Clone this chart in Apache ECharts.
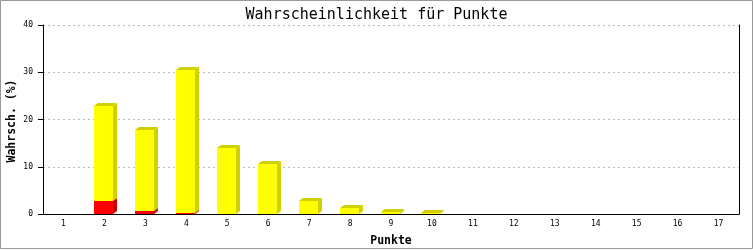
<!DOCTYPE html>
<html><head><meta charset="utf-8">
<script src="https://cdn.jsdelivr.net/npm/echarts@6/dist/echarts.min.js"></script>
<style>html,body{margin:0;padding:0;background:#fff}#c{width:753px;height:250px}</style>
</head><body><div id="c"></div>
<script>
const categories = ['1','2','3','4','5','6','7','8','9','10','11','12','13','14','15','16','17'];
const redValues = [0, 2.75, 0.55, 0.2, 0, 0, 0, 0, 0, 0, 0, 0, 0, 0, 0, 0, 0];
const totalValues = [0, 22.9, 17.8, 30.5, 14.0, 10.6, 2.75, 1.27, 0.42, 0.12, 0, 0, 0, 0, 0, 0, 0];
const yellowValues = totalValues.map((t, i) => Math.max(0, +(t - redValues[i]).toFixed(3)));
const yTicks = [0, 10, 20, 30, 40];
const yTitle = 'Wahrsch. (%)';

const chart = echarts.init(document.getElementById('c'), null, {renderer: 'canvas'});
const MONO = '"DejaVu Sans Mono", monospace';
const DX = 4, DY = 3, BW = 19;

function makeRender(front, side, bases) {
  return function (params, api) {
    const idx = api.value(0);
    const v = api.value(1);
    if (!(v > 0)) return;
    const base = bases ? bases[idx] : 0;
    const p0 = api.coord([idx, base]);
    const p1 = api.coord([idx, base + v]);
    const x0 = Math.round(p0[0] - BW / 2 - 1), x1 = x0 + BW;
    const yb = Math.round(p0[1]), yt = Math.round(p1[1]);
    return {
      type: 'group',
      children: [
        {type: 'polygon', shape: {points: [[x1, yb], [x1 + DX, yb - DY], [x1 + DX, yt - DY], [x1, yt]]}, style: {fill: side}},
        {type: 'polygon', shape: {points: [[x0, yt], [x0 + DX, yt - DY], [x1 + DX, yt - DY], [x1, yt]]}, style: {fill: side}},
        {type: 'rect', shape: {x: x0, y: yt, width: BW, height: yb - yt}, style: {fill: front}}
      ]
    };
  };
}

chart.setOption({
  animation: false,
  backgroundColor: '#fff',
  title: {text: 'Wahrscheinlichkeit für Punkte', left: 'center', top: 3,
    textStyle: {fontFamily: MONO, fontSize: 15, fontWeight: 'normal', color: '#000'}},
  grid: {left: 43, right: 14, top: 25, bottom: 36, containLabel: false, outerBoundsMode: 'none'},
  xAxis: {type: 'category', data: categories, name: 'Punkte', nameLocation: 'middle', nameGap: 21,
    nameMoveOverlap: false,
    nameTextStyle: {fontFamily: MONO, fontSize: 11.5, fontWeight: 'bold', color: '#000'},
    axisLine: {lineStyle: {color: '#000', width: 1}}, axisTick: {show: false},
    axisLabel: {fontFamily: MONO, fontSize: 8, color: '#000', margin: 6}},
  yAxis: [{type: 'value', min: 0, max: 40, interval: 10,
    axisLine: {show: true, lineStyle: {color: '#000', width: 1}},
    axisTick: {show: true, length: 5, lineStyle: {color: '#000'}},
    axisLabel: {fontFamily: MONO, fontSize: 8, color: '#000', margin: 10,
      formatter: v => yTicks.includes(v) ? String(v) : ''},
    splitLine: {show: true, lineStyle: {color: '#bbb', type: [2, 3], width: 1}}},
    {type: 'value', min: 0, max: 40, interval: 10, position: 'right',
    axisLine: {show: true, lineStyle: {color: '#000', width: 1}}, axisTick: {show: false},
    axisLabel: {show: false}, splitLine: {show: false}}],
  graphic: [
    {type: 'rect', shape: {x: 0.5, y: 0.5, width: 752, height: 248}, style: {fill: 'none', stroke: '#999', lineWidth: 1}, z: 100},
    {type: 'text', x: 12, y: 121, rotation: Math.PI / 2,
      style: {text: yTitle, fontFamily: MONO, fontSize: 11.5, fontWeight: 'bold', fill: '#000', align: 'center', verticalAlign: 'middle'}}
  ],
  series: [
    {type: 'custom', renderItem: makeRender('#ff0000', '#cc0000', null),
      data: redValues.map((v, i) => [i, v]), encode: {x: 0, y: 1}, z: 2},
    {type: 'custom', renderItem: makeRender('#ffff00', '#d0d000', redValues),
      data: yellowValues.map((v, i) => [i, v]), encode: {x: 0, y: 1}, z: 3}
  ]
});
</script></body></html>
